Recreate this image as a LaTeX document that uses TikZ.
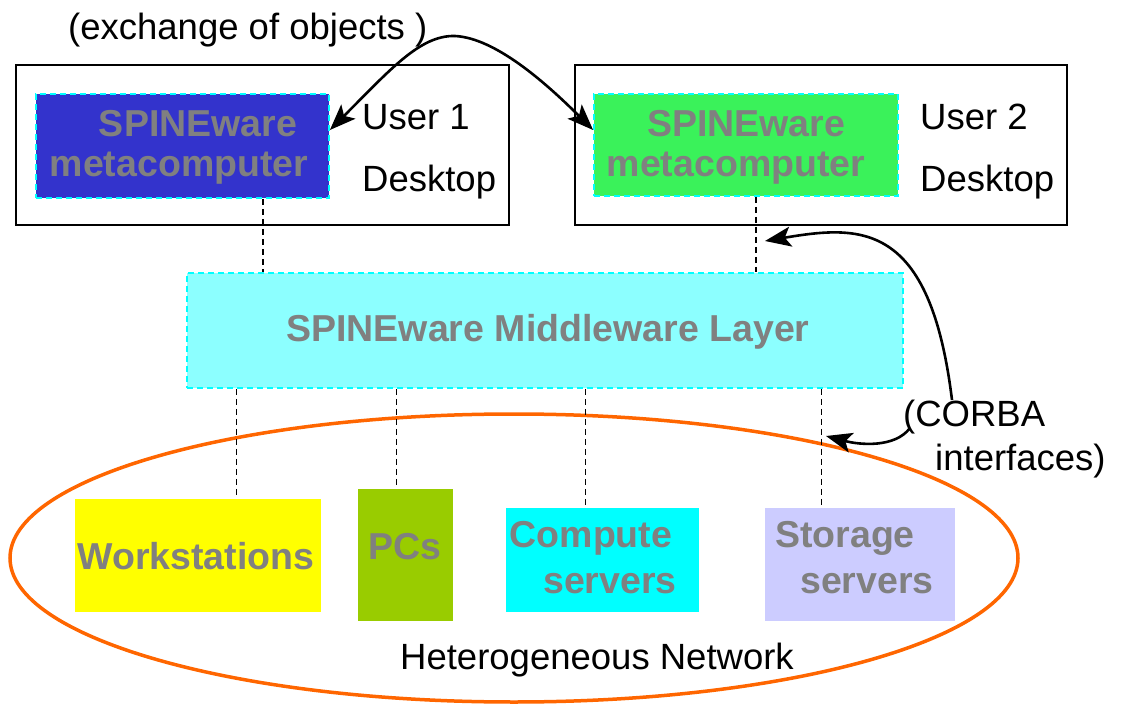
\documentclass[tikz,border=0pt]{standalone}
\usepackage{fontspec}
\setmainfont{Liberation Sans}
\usetikzlibrary{shapes.geometric,arrows.meta}
\definecolor{gtxt}{RGB}{128,128,128}
\definecolor{blueb}{RGB}{51,51,204}
\definecolor{greenb}{RGB}{58,242,90}
\definecolor{mwfill}{RGB}{140,255,255}
\definecolor{cyn}{RGB}{0,255,255}
\definecolor{ylw}{RGB}{255,255,0}
\definecolor{pcg}{RGB}{153,204,0}
\definecolor{stor}{RGB}{204,204,255}
\definecolor{orng}{RGB}{255,102,0}
\tikzset{
  frame/.style={draw=black,line width=2pt,inner sep=0pt},
  soft/.style={draw=cyn,dashed,dash pattern=on 6pt off 4pt,line width=1.8pt,inner sep=0pt},
  plain/.style={draw=none,inner sep=0pt},
  gray text/.style={text=gtxt,font=\fontsize{37.5}{40}\selectfont\bfseries,inner sep=0pt},
  blk text/.style={text=black,font=\fontsize{36.5}{40}\selectfont,inner sep=0pt},
  link/.style={dashed,dash pattern=on 6pt off 4pt,line width=1.8pt},
  thinlink/.style={dashed,dash pattern=on 6pt off 4pt,line width=0.9pt},
  arr/.style={line width=2.6pt,-{Stealth[length=26pt,width=20pt,inset=6pt]}},
}
\begin{document}
\begin{tikzpicture}[x=1pt,y=-1pt]
\useasboundingbox (0,0) rectangle (1128,706);
% user boxes
\node[frame,minimum width=493pt,minimum height=160pt] (u1) at (262.5,145) {};
\node[frame,minimum width=492pt,minimum height=160pt] (u2) at (821,145) {};
\node[soft,fill=blueb,minimum width=293pt,minimum height=104pt] (blue) at (182.5,146) {};
\node[soft,fill=greenb,minimum width=304pt,minimum height=102pt] (green) at (746,145) {};
\node[gray text] (b1) at (198,124) {SPINEware};
\node[gray text] (b2) at (179,168) {metacomputer};
\node[gray text] (g1) at (746,124) {SPINEware};
\node[gray text] (g2) at (736,168) {metacomputer};
\node[blk text,anchor=west] (us1) at (362,117) {User 1};
\node[blk text,anchor=west] (dk1) at (362,182) {Desktop};
\node[blk text,anchor=west] (us2) at (920,117) {User 2};
\node[blk text,anchor=west] (dk2) at (920,182) {Desktop};
\node[blk text,anchor=west] (exch) at (68,30) {(exchange of objects )};
% middleware
\node[soft,fill=mwfill,minimum width=716pt,minimum height=115pt] (mw) at (545,330.5) {};
\node[gray text] (mwt) at (548,332) {SPINEware Middleware Layer};
% network
\node[ellipse,draw=orng,line width=3.5pt,minimum width=1008pt,minimum height=288pt,inner sep=0pt] (net) at (514,558) {};
\node[plain,fill=ylw,minimum width=246pt,minimum height=113pt] (ws) at (198,555.5) {};
\node[plain,fill=pcg,minimum width=95pt,minimum height=132pt] (pc) at (405.5,555) {};
\node[plain,fill=cyn,minimum width=193pt,minimum height=104pt] (cs) at (602.5,560) {};
\node[plain,fill=stor,minimum width=190pt,minimum height=113pt] (ss) at (860,564.5) {};
\node[gray text] (wst) at (196,556) {Workstations};
\node[gray text] (pct) at (405,547) {PCs};
\node[gray text] (cst1) at (591,538) {Compute};
\node[gray text] (cst2) at (610,584) {servers};
\node[gray text] (sst1) at (845,538) {Storage};
\node[gray text] (sst2) at (867,584) {servers};
\node[blk text] (hn) at (597,660) {Heterogeneous Network};
\node[blk text,anchor=west] (corba1) at (903,417) {(CORBA};
\node[blk text,anchor=west] (corba2) at (935,461) {interfaces)};
% dashed connectors
\coordinate (x1) at (263,0);
\coordinate (x2) at (756,0);
\coordinate (x3) at (236,0);
\coordinate (x4) at (396,0);
\coordinate (x5) at (585,0);
\coordinate (x6) at (821,0);
\draw[link] (blue.south -| x1) -- (mw.north -| x1);
\draw[link] (green.south -| x2) -- (mw.north -| x2);
\draw[thinlink] (mw.south -| x3) -- (ws.north -| x3);
\draw[thinlink] (mw.south -| x4) -- (pc.north -| x4);
\draw[thinlink] (mw.south -| x5) -- (cs.north -| x5);
\draw[thinlink] (mw.south -| x6) -- (ss.north -| x6);
% arrows
\coordinate (peak) at (455,36);
\draw[arr] (peak) .. controls (420,35) and (390,70) .. ([yshift=16pt]blue.east);
\draw[arr] (peak) .. controls (495,38) and (545,82) .. ([yshift=15pt]green.west);
\coordinate (c1) at (952,400);
\coordinate (t1) at (765,241);
\coordinate (c2) at (910,428);
\coordinate (t2) at (826,436);
\draw[arr] (c1) .. controls (930,220) and (860,225) .. (t1);
\draw[arr] (c2) .. controls (895,448) and (860,445) .. (t2);
\end{tikzpicture}
\end{document}
